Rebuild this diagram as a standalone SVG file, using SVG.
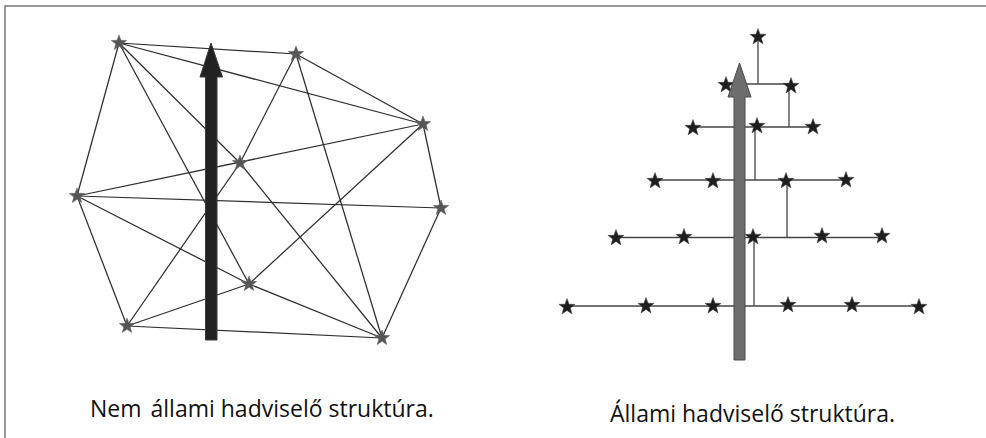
<svg xmlns="http://www.w3.org/2000/svg" width="986" height="438" viewBox="0 0 986 438">
<style>
.frame{fill:none;stroke:#777;stroke-width:1.5}
.edge{stroke:#2e2e2e;stroke-width:1.25;fill:none}
.tree{stroke:#444;stroke-width:1.3;fill:none}
.gstar{fill:#555;stroke:#666;stroke-width:0.6}
.bstar{fill:#1e1e1e;stroke:#444;stroke-width:0.5}
.lbl{font-family:"Open Sans","Noto Sans","DejaVu Sans",sans-serif;font-size:23px;fill:#111}
</style>
<defs>
<path id="star" d="M0,-8.5 L2.057,-2.832 L8.084,-2.627 L3.329,1.082 L4.996,6.877 L0,3.5 L-4.996,6.877 L-3.329,1.082 L-8.084,-2.627 L-2.057,-2.832 Z"/>
</defs>
<rect class="frame" x="5" y="6" width="1000" height="450"/>

<g id="connectors">
<g id="network-edges">
<line class="edge" x1="119" y1="43" x2="296" y2="54"/>
<line class="edge" x1="119" y1="43" x2="423" y2="124"/>
<line class="edge" x1="119" y1="43" x2="240" y2="163"/>
<line class="edge" x1="240" y1="163" x2="382" y2="338"/>
<line class="edge" x1="119" y1="43" x2="249" y2="284"/>
<line class="edge" x1="119" y1="43" x2="77" y2="196"/>
<line class="edge" x1="296" y1="54" x2="423" y2="124"/>
<line class="edge" x1="296" y1="54" x2="240" y2="163"/>
<line class="edge" x1="240" y1="163" x2="127" y2="326"/>
<line class="edge" x1="296" y1="54" x2="382" y2="338"/>
<line class="edge" x1="77" y1="196" x2="423" y2="124"/>
<line class="edge" x1="423" y1="124" x2="249" y2="284"/>
<line class="edge" x1="423" y1="124" x2="441" y2="208"/>
<line class="edge" x1="77" y1="196" x2="441" y2="208"/>
<line class="edge" x1="77" y1="196" x2="249" y2="284"/>
<line class="edge" x1="249" y1="284" x2="382" y2="338"/>
<line class="edge" x1="77" y1="196" x2="127" y2="326"/>
<line class="edge" x1="127" y1="326" x2="249" y2="284"/>
<line class="edge" x1="127" y1="326" x2="382" y2="338"/>
<line class="edge" x1="441" y1="208" x2="382" y2="338"/>
</g>
<g id="tree-edges">
<line class="tree" x1="758" y1="36" x2="758" y2="84"/>
<line class="tree" x1="726" y1="84" x2="790" y2="84"/>
<line class="tree" x1="789" y1="84" x2="789" y2="127"/>
<line class="tree" x1="693" y1="127" x2="813" y2="127"/>
<line class="tree" x1="755" y1="127" x2="755" y2="180"/>
<line class="tree" x1="655" y1="180" x2="846" y2="180"/>
<line class="tree" x1="787" y1="180" x2="787" y2="238"/>
<line class="tree" x1="616" y1="237.5" x2="882" y2="237.5"/>
<line class="tree" x1="754" y1="237.5" x2="754" y2="306"/>
<line class="tree" x1="567" y1="306" x2="919" y2="306"/>
</g>
</g>

<g id="network-nodes">
<g id="nA"><use href="#star" class="gstar" transform="translate(119,43) scale(0.95)"/></g>
<g id="nB"><use href="#star" class="gstar" transform="translate(296,54) scale(0.95)"/></g>
<g id="nC"><use href="#star" class="gstar" transform="translate(423,124) scale(0.95)"/></g>
<g id="nD"><use href="#star" class="gstar" transform="translate(240,163) scale(0.95)"/></g>
<g id="nE"><use href="#star" class="gstar" transform="translate(77,196) scale(0.95)"/></g>
<g id="nF"><use href="#star" class="gstar" transform="translate(441,208) scale(0.95)"/></g>
<g id="nG"><use href="#star" class="gstar" transform="translate(249,284) scale(0.95)"/></g>
<g id="nH"><use href="#star" class="gstar" transform="translate(127,326) scale(0.95)"/></g>
<g id="nI"><use href="#star" class="gstar" transform="translate(382,338) scale(0.95)"/></g>
</g>

<g id="arrow-left">
<polygon points="211,43 222.5,77 217,77 217,340 205.5,340 205.5,77 200,77" fill="#222" stroke="#3a3a3a" stroke-width="1"/>
</g>

<g id="tree-nodes">
<g id="t1"><use href="#star" class="bstar" transform="translate(758,37)"/></g>
<g id="t2"><use href="#star" class="bstar" transform="translate(726,85)"/></g>
<g id="t3"><use href="#star" class="bstar" transform="translate(791,86)"/></g>
<g id="t4"><use href="#star" class="bstar" transform="translate(693,128)"/></g>
<g id="t5"><use href="#star" class="bstar" transform="translate(757,126)"/></g>
<g id="t6"><use href="#star" class="bstar" transform="translate(813,127)"/></g>
<g id="t7"><use href="#star" class="bstar" transform="translate(655,181)"/></g>
<g id="t8"><use href="#star" class="bstar" transform="translate(713,181)"/></g>
<g id="t9"><use href="#star" class="bstar" transform="translate(786,181)"/></g>
<g id="t10"><use href="#star" class="bstar" transform="translate(846,180)"/></g>
<g id="t11"><use href="#star" class="bstar" transform="translate(616,238)"/></g>
<g id="t12"><use href="#star" class="bstar" transform="translate(684,237)"/></g>
<g id="t13"><use href="#star" class="bstar" transform="translate(753,237)"/></g>
<g id="t14"><use href="#star" class="bstar" transform="translate(822,236)"/></g>
<g id="t15"><use href="#star" class="bstar" transform="translate(882,236)"/></g>
<g id="t16"><use href="#star" class="bstar" transform="translate(567,307)"/></g>
<g id="t17"><use href="#star" class="bstar" transform="translate(646,306)"/></g>
<g id="t18"><use href="#star" class="bstar" transform="translate(713,306)"/></g>
<g id="t19"><use href="#star" class="bstar" transform="translate(788,305)"/></g>
<g id="t20"><use href="#star" class="bstar" transform="translate(852,305)"/></g>
<g id="t21"><use href="#star" class="bstar" transform="translate(919,307)"/></g>
</g>

<g id="arrow-right">
<polygon points="739.5,63 751,97 745,97 745,360 734,360 734,97 728,97" fill="#6d6d6d" stroke="#4a4a4a" stroke-width="1"/>
</g>

<g id="labels">
<text class="lbl" x="90" y="417">Nem <tspan dx="3">állami hadviselő struktúra.</tspan></text>
<text class="lbl" x="610" y="422">Állami hadviselő struktúra.</text>
</g>
</svg>
